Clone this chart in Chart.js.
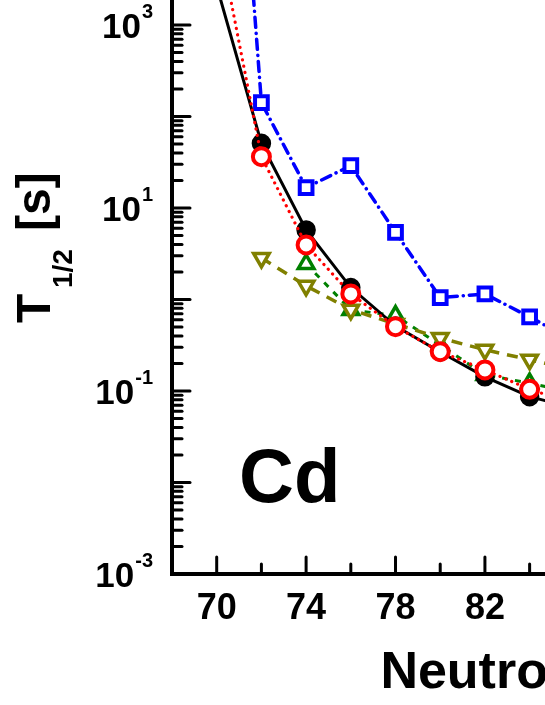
<!DOCTYPE html>
<html><head><meta charset="utf-8">
<script src="https://cdn.jsdelivr.net/npm/chart.js@4.4.1/dist/chart.umd.min.js"></script>
<style>
html,body{margin:0;padding:0;overflow:hidden;background:#fff;width:545px;height:705px;}
#wrap{position:absolute;left:0;top:0;width:1030px;height:705px;}
</style></head><body>
<div id="wrap"><canvas id="c" width="1030" height="705"></canvas></div>
<script>
// ---- data (half-lives in seconds, Cd isotopes) ----
const neutronNumbers = [70, 72, 74, 76, 78, 80, 82, 84, 86];
const blackSolid   = [2670, 50.9, 5.75, 1.35, 0.513, 0.267, 0.143, 0.0867, 0.065];
const redDotted    = [11500, 36.4, 3.95, 1.15, 0.505, 0.269, 0.170, 0.1045, 0.072];
const blueDashDot  = [4.2e8, 141.6, 16.7, 29.0, 5.42, 1.05, 1.15, 0.644, 0.352];
const greenDashed  = [null, null, 2.45, 0.77, 0.668, 0.318, 0.150, 0.122, 0.095];
const oliveDashed  = [null, 2.85, 1.41, 0.774, 0.54, 0.379, 0.282, 0.22, 0.17];

const xMajorTicks = [70, 74, 78, 82, 86, 90, 94, 98, 102];
const xMinorTicks = [72, 76, 80, 84, 88, 92, 96, 100, 104];
const yLabelExponents = [-3, -1, 1, 3];
const yDecades = [-3, -2, -1, 0, 1, 2, 3];
const xTitle = 'Neutron Number';
const elementLabel = 'Cd';

const FONT = '"Liberation Sans", Arial, Helvetica, sans-serif';

function pts(vals) {
  return neutronNumbers.map((n, i) => ({x: n, y: vals[i]})).filter(p => p.y !== null);
}

const decor = {
  id: 'decor',
  afterDraw(chart) {
    const {ctx, chartArea: a, scales: {x, y}} = chart;
    ctx.save();
    ctx.strokeStyle = '#000';
    ctx.fillStyle = '#000';
    ctx.lineCap = 'round';
    ctx.lineWidth = 3;
    const seg = (x1, y1, x2, y2) => { ctx.beginPath(); ctx.moveTo(x1, y1); ctx.lineTo(x2, y2); ctx.stroke(); };
    xMajorTicks.forEach(v => { const px = x.getPixelForValue(v); seg(px, a.bottom, px, a.bottom - 17); });
    xMinorTicks.forEach(v => { const px = x.getPixelForValue(v); seg(px, a.bottom, px, a.bottom - 10); });
    yDecades.forEach(e => {
      const base = Math.pow(10, e);
      const py = y.getPixelForValue(base);
      if (py >= a.top - 1) seg(a.left, py, a.left + 18, py);
      for (let m = 2; m <= 9; m++) {
        const pm = y.getPixelForValue(m * base);
        if (pm >= a.top) seg(a.left, pm, a.left + 10, pm);
      }
    });
    // axes
    ctx.lineCap = 'square';
    ctx.lineWidth = 4;
    ctx.beginPath();
    ctx.moveTo(a.left, a.top - 5);
    ctx.lineTo(a.left, a.bottom);
    ctx.lineTo(a.right, a.bottom);
    ctx.stroke();
    // y tick labels 10^n
    ctx.textBaseline = 'alphabetic';
    ctx.textAlign = 'left';
    yLabelExponents.forEach(e => {
      const py = y.getPixelForValue(Math.pow(10, e));
      const bigF = 'bold 35px ' + FONT, supF = 'bold 20px ' + FONT;
      ctx.font = bigF; const wb = ctx.measureText('10').width;
      ctx.font = supF; const es = String(e); const ws = ctx.measureText(es).width;
      const right = 153;
      const x0 = right - wb - ws - 1;
      ctx.font = bigF; ctx.fillText('10', x0, py + 13);
      ctx.font = supF; ctx.fillText(es, x0 + wb + 1, py - 7);
    });
    // y axis title T_{1/2} [s]
    ctx.save();
    ctx.translate(50, 323);
    ctx.rotate(-Math.PI / 2);
    ctx.font = 'bold 48px ' + FONT;
    ctx.fillText('T', 0, 0);
    ctx.font = 'bold 28px ' + FONT;
    ctx.fillText('1/2', 35, 22);
    ctx.font = 'bold 48px ' + FONT;
    ctx.fillText('[s]', 92, 0);
    ctx.restore();
    // element label
    ctx.font = 'bold 76px ' + FONT;
    ctx.fillText(elementLabel, 239, 502);
    ctx.restore();
  }
};

const common = {fill: false, tension: 0, pointHoverRadius: 9};

const chart = new Chart(document.getElementById('c'), {
  type: 'line',
  data: {
    datasets: [
      Object.assign({}, common, {
        label: 'red dotted', data: pts(redDotted),
        borderColor: '#ff0000', borderWidth: 3.2, borderDash: [0.1, 6.3], borderCapStyle: 'round',
        pointStyle: 'circle', pointRadius: 8.5, pointBorderWidth: 4,
        pointBackgroundColor: '#ffffff', pointBorderColor: '#ff0000'
      }),
      Object.assign({}, common, {
        label: 'black solid', data: pts(blackSolid),
        borderColor: '#000000', borderWidth: 3,
        pointStyle: 'circle', pointRadius: 9, pointBorderWidth: 1.5,
        pointBackgroundColor: '#000000', pointBorderColor: '#000000'
      }),
      Object.assign({}, common, {
        label: 'blue dash-dot', data: pts(blueDashDot),
        borderColor: '#0000ff', borderWidth: 3.5, borderDash: [10, 6, 0.1, 6], borderCapStyle: 'round',
        pointStyle: 'rect', pointRadius: 9, pointBorderWidth: 4,
        pointBackgroundColor: '#ffffff', pointBorderColor: '#0000ff'
      }),
      Object.assign({}, common, {
        label: 'olive dashed', data: pts(oliveDashed),
        borderColor: '#808000', borderWidth: 3.5, borderDash: [11, 8],
        pointStyle: 'triangle', pointRotation: 180, pointRadius: 9, pointBorderWidth: 3.5,
        pointBackgroundColor: '#ffffff', pointBorderColor: '#808000'
      }),
      Object.assign({}, common, {
        label: 'green dashed', data: pts(greenDashed),
        borderColor: '#008000', borderWidth: 3, borderDash: [6, 7],
        pointStyle: 'triangle', pointRadius: 9, pointBorderWidth: 3.5,
        pointBackgroundColor: '#ffffff', pointBorderColor: '#008000'
      })
    ]
  },
  options: {
    responsive: false,
    animation: false,
    devicePixelRatio: 1,
    layout: {autoPadding: false, padding: {left: 0, right: 31, top: 0, bottom: 0}},
    plugins: {legend: {display: false}, tooltip: {enabled: false}},
    scales: {
      x: {
        type: 'linear', min: 68, max: 105,
        afterBuildTicks: s => { s.ticks = xMajorTicks.map(v => ({value: v})); },
        afterFit: s => { s.height = 131; },
        grid: {display: false, drawTicks: false},
        border: {display: false},
        ticks: {color: '#000', font: {family: FONT, size: 36, weight: 'bold'}, padding: 13, maxRotation: 0, autoSkip: false},
        title: {display: true, text: xTitle, color: '#000', font: {family: FONT, size: 52, weight: 'bold'}, padding: {top: 0, bottom: 0}}
      },
      y: {
        type: 'logarithmic', min: 1e-3, max: Math.pow(10, 3 + 25 / 91.5),
        afterFit: s => { s.width = 172; },
        grid: {display: false, drawTicks: false},
        border: {display: false},
        ticks: {display: false}
      }
    }
  },
  plugins: [decor]
});
if (chart.chartArea && Math.abs(chart.chartArea.top) > 0.5) {
  chart.options.layout.padding.top = -chart.chartArea.top;
  chart.update();
}
</script>
</body></html>
